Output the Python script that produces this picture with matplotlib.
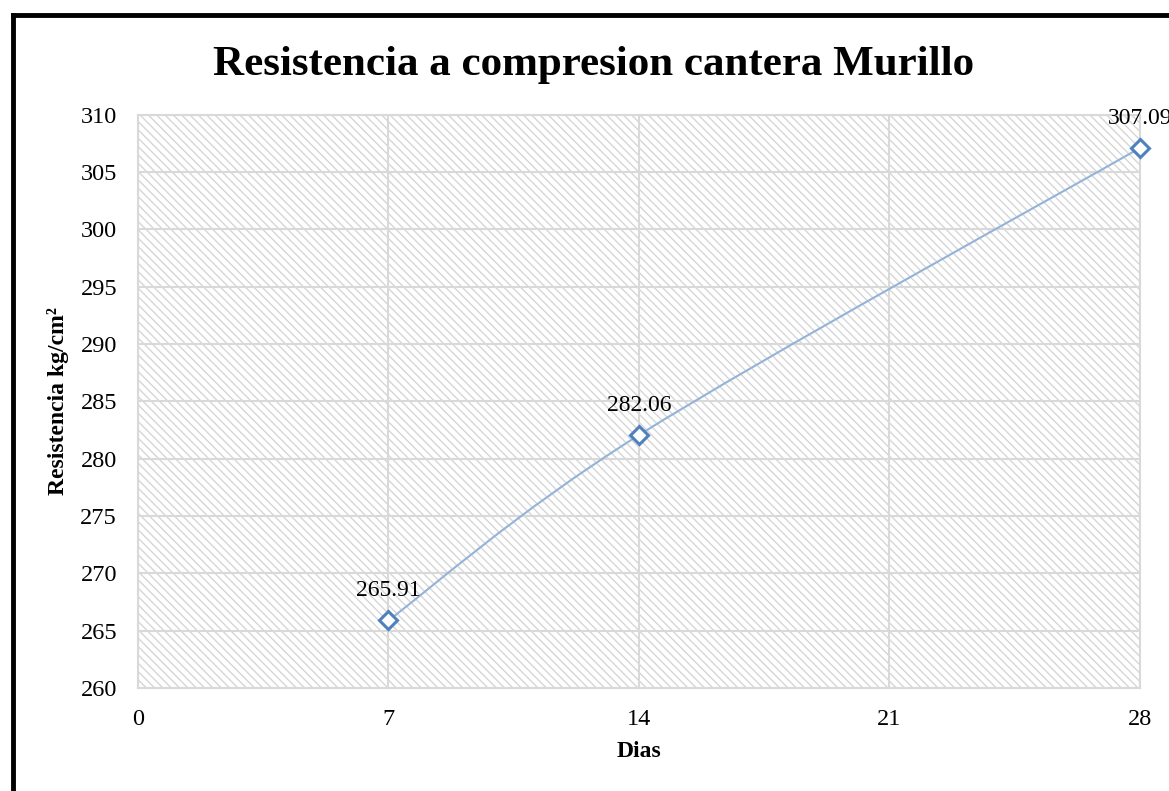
import numpy as np
import matplotlib
matplotlib.use("Agg")
import matplotlib.pyplot as plt
from matplotlib.patches import Rectangle, PathPatch
from matplotlib.path import Path
from matplotlib.lines import Line2D

# ── Data ───────────────────────────────────────────────────────────────────
dias = [7, 14, 28]
resistencia = [265.91, 282.06, 307.09]
x_ticks = [0, 7, 14, 21, 28]
y_ticks = list(range(260, 311, 5))

plt.rcParams["font.family"] = ["Liberation Serif", "DejaVu Serif"]
plt.rcParams["hatch.linewidth"] = 1.0

fig = plt.figure(figsize=(11.69, 7.91), dpi=100)
ax = fig.add_axes([0.118, 0.130, 0.857, 0.725])
ax.set_xlim(0, 28)
ax.set_ylim(260, 310)

# hatched plot-area background
ax.add_patch(Rectangle((0, 0), 1, 1, transform=ax.transAxes, facecolor="white",
                       edgecolor="#d6d6d6", hatch="\\\\\\\\", lw=0, zorder=0))

ax.set_xticks(x_ticks)
ax.set_yticks(y_ticks)
ax.grid(True, color="#d9d9d9", lw=1.5, zorder=1)
ax.set_axisbelow(True)
for s in ax.spines.values():
    s.set_color("#d9d9d9")
    s.set_linewidth(1.5)
ax.tick_params(length=0, labelsize=17.5, pad=15)

# smoothed line (Excel-style Catmull-Rom bezier)
pts = np.column_stack([dias, resistencia])
verts, codes = [pts[0]], [Path.MOVETO]
for i in range(len(pts) - 1):
    p0 = pts[i - 1] if i > 0 else pts[i]
    p1, p2 = pts[i], pts[i + 1]
    p3 = pts[i + 2] if i + 2 < len(pts) else pts[i + 1]
    c1 = p1 + (p2 - p0) / 6
    c2 = p2 - (p3 - p1) / 6
    verts += [c1, c2, p2]
    codes += [Path.CURVE4] * 3
ax.add_patch(PathPatch(Path(verts, codes), facecolor="none",
                       edgecolor="#95b3d7", lw=1.5, zorder=3, clip_on=False))
ax.plot(dias, resistencia, ls="none", marker="D", ms=9, mfc="white",
        mec="#4f81bd", mew=2.2, zorder=4, clip_on=False)

for x, y in zip(dias, resistencia):
    ax.annotate(f"{y:.2f}", (x, y), xytext=(0, 14), textcoords="offset points",
                ha="center", va="bottom", fontsize=17, annotation_clip=False)

ax.set_xlabel("Dias", fontsize=17, fontweight="bold", labelpad=8)
ax.set_ylabel("Resistencia kg/cm²", fontsize=17, fontweight="bold", labelpad=8)
fig.text(0.508, 0.918, "Resistencia a compresion cantera Murillo",
         ha="center", va="center", fontsize=31, fontweight="bold")

# outer chart frame (partially cropped)
fig.add_artist(Line2D([0.0115, 0.0115], [0.0, 0.9815], transform=fig.transFigure,
                      color="black", lw=3.5))
fig.add_artist(Line2D([0.0115, 1.0], [0.9815, 0.9815], transform=fig.transFigure,
                      color="black", lw=3.5))

fig.savefig("out.png", dpi=100)
